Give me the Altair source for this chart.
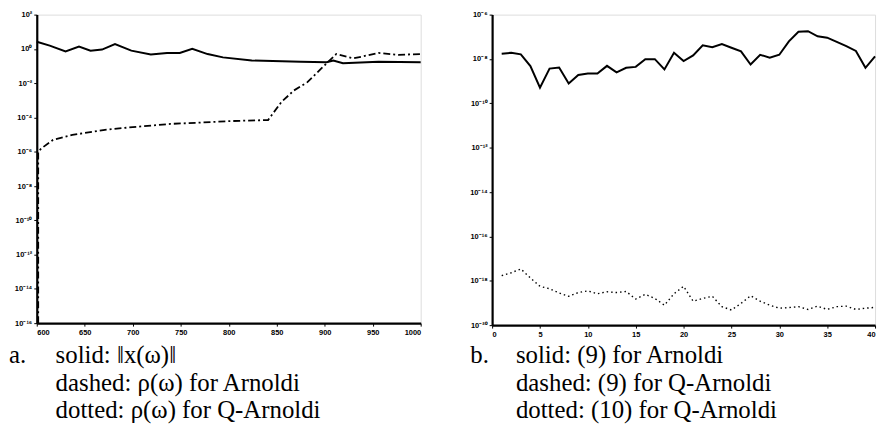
import altair as alt
import pandas as pd

# ---------- panel a data ----------
a_solid_w = [600, 613.5, 630, 644, 656, 668, 681.5, 698.5, 718.8, 735.7, 749, 762, 778,
             794, 824, 875, 902, 909, 919, 956, 1000]
a_solid_v = [2.63, 1.55, 0.72, 1.35, 0.79, 0.91, 1.9, 0.79, 0.47, 0.58, 0.58, 1.02, 0.5,
             0.32, 0.21, 0.18, 0.166, 0.21, 0.145, 0.18, 0.166]
a_dash_w = [601.5, 601.5, 605, 617, 637, 671, 705, 739, 773, 804, 841, 855, 868, 882, 896,
            912, 930, 956, 977, 1000]
a_dash_v = [1e-16, 1e-6, 1.6e-6, 4.9e-6, 9.5e-6, 1.9e-5, 2.9e-5, 4.2e-5, 5.1e-5, 6.2e-5,
            7.1e-5, 8.1e-4, 3.8e-3, 1.15e-2, 6.8e-2, 0.5, 0.28, 0.58, 0.45, 0.5]
a_xticks = [600, 650, 700, 750, 800, 850, 900, 950, 1000]
a_yticks = [1e2, 1e0, 1e-2, 1e-4, 1e-6, 1e-8, 1e-10, 1e-12, 1e-14, 1e-16]
a_label = "a."
a_caption = ["solid: \u2016x(\u03c9)\u2016", "dashed: \u03c1(\u03c9) for Arnoldi",
             "dotted: \u03c1(\u03c9) for Q-Arnoldi"]

# ---------- panel b data ----------
b_k = list(range(1, 41))
b_solid = [1.74e-8, 1.9e-8, 1.62e-8, 4.8e-9, 5.1e-10, 3.7e-9, 4.1e-9, 7.9e-10, 1.9e-9, 2.2e-9,
           2.2e-9, 4.9e-9, 2.5e-9, 4.0e-9, 4.4e-9, 9.8e-9, 9.8e-9, 3.4e-9, 1.9e-8, 8.1e-9,
           1.45e-8, 4.1e-8, 3.4e-8, 4.7e-8, 3.2e-8, 2.2e-8, 5.6e-9, 1.55e-8, 1.15e-8, 1.55e-8,
           6.2e-8, 1.7e-7, 1.8e-7, 1.05e-7, 9.1e-8, 5.9e-8, 3.8e-8, 2.3e-8, 4.0e-9, 1.3e-8]
b_dotted = [1.7e-18, 2.3e-18, 3.4e-18, 1.35e-18, 5.6e-19, 4.4e-19, 2.8e-19, 2.0e-19, 2.95e-19,
            3.5e-19, 2.6e-19, 3.2e-19, 2.95e-19, 3.3e-19, 1.5e-19, 2.45e-19, 1.6e-19, 7.9e-20,
            2.6e-19, 5.6e-19, 1.2e-19, 1.6e-19, 2.0e-19, 6.8e-20, 4.8e-20, 9.5e-20, 2.1e-19,
            1.2e-19, 7.9e-20, 5.8e-20, 6.2e-20, 6.8e-20, 5.1e-20, 7.2e-20, 5.1e-20, 6.8e-20,
            7.2e-20, 5.1e-20, 5.8e-20, 6.3e-20]
b_xticks = [0, 5, 10, 15, 20, 25, 30, 35, 40]
b_yticks = [1e-6, 1e-8, 1e-10, 1e-12, 1e-14, 1e-16, 1e-18, 1e-20]
b_label = "b."
b_caption = ["solid: (9) for Arnoldi", "dashed: (9) for Q-Arnoldi",
             "dotted: (10) for Q-Arnoldi"]

SUP = "\u2070\u00b9\u00b2\u00b3\u2074\u2075\u2076\u2077\u2078\u2079"
E = "round(log(datum.value)/LN10)"
pow_expr = (
    "'10' + (" + E + " < 0 ? '\u207b' : '') + "
    "(abs(" + E + ") >= 10 ? substring('" + SUP + "', floor(abs(" + E + ")/10), floor(abs(" + E + ")/10)+1) : '') + "
    "substring('" + SUP + "', abs(" + E + ") % 10, abs(" + E + ") % 10 + 1)"
)

AX = dict(labelFont="Liberation Sans", labelFontWeight="bold", labelFontSize=7.5,
          labelColor="black", tickColor="black", tickSize=3, domainColor="black",
          domainWidth=2.2, grid=False, title=None, labelPadding=2)

CAP_FONT = "'Liberation Serif', 'Times New Roman', serif"
CAP_SIZE = 25
LINE_H = 28

AW, AH = 387, 311
BW, BH = 386, 313


def caption_layers(label, lines, h, lx, tx, dy):
    layers = []
    lab = alt.Chart(pd.DataFrame({"t": [label]})).mark_text(
        align="left", baseline="alphabetic", font=CAP_FONT, fontSize=CAP_SIZE, color="black"
    ).encode(x=alt.value(lx), y=alt.value(h + dy), text="t:N")
    layers.append(lab)
    for i, line in enumerate(lines):
        layers.append(alt.Chart(pd.DataFrame({"t": [line]})).mark_text(
            align="left", baseline="alphabetic", font=CAP_FONT, fontSize=CAP_SIZE, color="black"
        ).encode(x=alt.value(tx), y=alt.value(h + dy + i * LINE_H), text="t:N"))
    return layers


# ---------- panel a ----------
a_solid_df = pd.DataFrame({"w": a_solid_w, "v": a_solid_v, "i": range(len(a_solid_w))})
a_dash_df = pd.DataFrame({"w": a_dash_w, "v": a_dash_v, "i": range(len(a_dash_w))})

ax_a = alt.X("w:Q", scale=alt.Scale(domain=[600, 1000], nice=False),
             axis=alt.Axis(values=a_xticks, format="d", **AX))
ay_a = alt.Y("v:Q", scale=alt.Scale(type="log", domain=[1e-16, 1e2], nice=False),
             axis=alt.Axis(values=a_yticks, labelExpr=pow_expr, **AX))

a1 = alt.Chart(a_solid_df).mark_line(color="black", strokeWidth=2).encode(
    x=ax_a, y=ay_a, order="i:Q")
a2 = alt.Chart(a_dash_df).mark_line(color="black", strokeWidth=1.8,
                                    strokeDash=[7, 3, 2, 3]).encode(
    x=ax_a, y=ay_a, order="i:Q")
panel_a = alt.layer(a1, a2, *caption_layers(a_label, a_caption, AH, -28, 19, 40)).properties(
    width=AW, height=AH)

# ---------- panel b ----------
b_df = pd.DataFrame({"k": b_k, "s": b_solid, "d": b_dotted})
ax_b = alt.X("k:Q", scale=alt.Scale(domain=[0, 40], nice=False),
             axis=alt.Axis(values=b_xticks, format="d", **AX))
b1 = alt.Chart(b_df).mark_line(color="black", strokeWidth=2).encode(
    x=ax_b,
    y=alt.Y("s:Q", scale=alt.Scale(type="log", domain=[1e-20, 1e-6], nice=False),
            axis=alt.Axis(values=b_yticks, labelExpr=pow_expr, **AX)))
b2 = alt.Chart(b_df).mark_line(color="black", strokeWidth=1.4, strokeDash=[1.5, 3]).encode(
    x=ax_b, y=alt.Y("d:Q"))
panel_b = alt.layer(b1, b2, *caption_layers(b_label, b_caption, BH, -22, 24, 38)).properties(
    width=BW, height=BH)

chart = alt.hconcat(panel_a, panel_b, spacing=43).properties(padding=0).configure_view(
    stroke="black", strokeWidth=1.5
).configure(background="white")

chart.save("out.html", embed_options={"renderer": "svg", "actions": False})
